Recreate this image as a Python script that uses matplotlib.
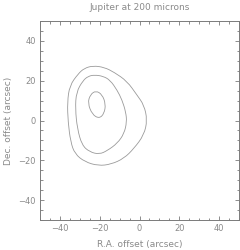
import matplotlib
matplotlib.use("Agg")
import matplotlib.pyplot as plt
from matplotlib.path import Path
from matplotlib.patches import PathPatch
from matplotlib.ticker import MultipleLocator

# contour vertices (arcsec offsets)
outer_x = [-23.4, -17.75, -12.75, -6.25, -1.25, 2.25, 3.9, 2.25, -2.75, -7.75,
           -14.25, -20.75, -27.5, -32.5, -34.6, -35.9, -36.25, -35.1, -30.9, -27.75]
outer_y = [27.5, 26.75, 24.25, 19.75, 12.75, 7.75, 0.25, -7.25, -14.0, -19.0,
           -22.0, -22.75, -20.75, -16.75, -10.75, -0.75, 9.25, 17.5, 23.4, 26.25]

middle_x = [-22.6, -18.25, -14.75, -11.25, -8.75, -6.9, -6.4, -7.75, -11.1, -16.1,
            -20.25, -25.1, -28.9, -31.25, -32.25, -31.75, -28.4, -25.75]
middle_y = [22.9, 22.25, 20.25, 15.25, 10.25, 4.25, -0.75, -6.6, -11.4, -15.1,
            -17.0, -15.75, -12.4, -4.1, 5.9, 14.25, 20.1, 22.25]

inner_x = [-21.9, -18.75, -17.0, -17.75, -20.25, -23.75, -26.0, -24.75]
inner_y = [15.0, 13.0, 8.25, 3.5, 1.0, 3.0, 8.75, 13.0]

title = "Jupiter at 200 microns"
xlabel = "R.A. offset (arcsec)"
ylabel = "Dec. offset (arcsec)"

TXT = "#8a8a8a"
LINE = "#7a7a7a"


def closed_curve(xs, ys):
    # smooth closed path: points act as quadratic bezier controls
    n = len(xs)
    mids = [((xs[i] + xs[(i + 1) % n]) / 2, (ys[i] + ys[(i + 1) % n]) / 2) for i in range(n)]
    verts = [mids[-1]]
    codes = [Path.MOVETO]
    for i in range(n):
        verts += [(xs[i], ys[i]), mids[i]]
        codes += [Path.CURVE3, Path.CURVE3]
    return Path(verts, codes)


fig = plt.figure(figsize=(2.4, 2.5), dpi=100)
ax = fig.add_axes([40 / 240, 1 - 220 / 250, 200 / 240 - 0.004, 199 / 250])

for xs, ys in [(outer_x, outer_y), (middle_x, middle_y), (inner_x, inner_y)]:
    ax.add_patch(PathPatch(closed_curve(xs, ys), fill=False, ec="#9a9a9a", lw=0.6))

ax.set_xlim(-50, 50)
ax.set_ylim(-50, 50)
ax.xaxis.set_major_locator(MultipleLocator(20))
ax.xaxis.set_minor_locator(MultipleLocator(5))
ax.yaxis.set_major_locator(MultipleLocator(20))
ax.yaxis.set_minor_locator(MultipleLocator(5))
ax.tick_params(which="both", direction="in", top=True, right=True,
               color=LINE, width=0.6, labelcolor=TXT, labelsize=6, pad=3)
ax.tick_params(which="major", length=3)
ax.tick_params(which="minor", length=1.8)
for s in ax.spines.values():
    s.set_color(LINE)
    s.set_linewidth(0.7)

ax.set_title(title, fontsize=6.5, color=TXT, pad=8)
ax.set_xlabel(xlabel, fontsize=6.5, color=TXT, labelpad=5)
ax.set_ylabel(ylabel, fontsize=6.5, color=TXT, labelpad=4)

fig.savefig("out.png", dpi=100)
